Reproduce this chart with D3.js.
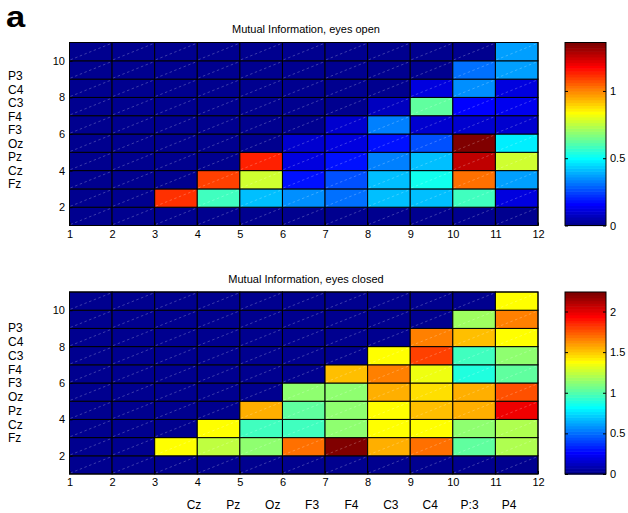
<!DOCTYPE html>
<html>
<head>
<meta charset="utf-8">
<script src="https://cdn.jsdelivr.net/npm/d3@7/dist/d3.min.js"></script>
<style>
  html, body { margin: 0; padding: 0; background: #fff; }
  svg { display: block; font-family: "Liberation Sans", Arial, Helvetica, sans-serif; }
</style>
</head>
<body>
<svg id="fig" width="628" height="513"></svg>
<script>
// Grid ticks
const xTicks = [1, 2, 3, 4, 5, 6, 7, 8, 9, 10, 11, 12];
const yTicks = [2, 4, 6, 8, 10];

// Electrode names along the side (top to bottom) and along the bottom
const rowLabels = ["P3", "C4", "C3", "F4", "F3", "Oz", "Pz", "Cz", "Fz"];
const colLabels = ["Cz", "Pz", "Oz", "F3", "F4", "C3", "C4", "P:3", "P4"];

// Panel titles
const titles = ["Mutual Information, eyes open", "Mutual Information, eyes closed"];

// Colorbar ticks
const cbTicksOpen = [0, 0.5, 1];
const cbTicksClosed = [0, 0.5, 1, 1.5, 2];

// Mutual information, eyes open: rows y = 1..10, columns x = 1..11
const miOpen = [
  [0, 0, 0,    0,    0,     0,     0,     0,     0,     0,     0    ],
  [0, 0, 1.12, 0.59, 0.425, 0.34,  0.306, 0.415, 0.425, 0.585, 0.109],
  [0, 0, 0,    1.10, 0.765, 0.187, 0.255, 0.425, 0.51,  1.037, 0.381],
  [0, 0, 0,    0,    1.14,  0.109, 0.17,  0.33,  0.408, 1.258, 0.78 ],
  [0, 0, 0,    0,    0,     0.102, 0.119, 0.19,  0.272, 1.36,  0.476],
  [0, 0, 0,    0,    0,     0,     0.102, 0.323, 0.085, 0.102, 0.085],
  [0, 0, 0,    0,    0,     0,     0,     0.068, 0.622, 0.153, 0.136],
  [0, 0, 0,    0,    0,     0,     0,     0,     0.119, 0.357, 0.119],
  [0, 0, 0,    0,    0,     0,     0,     0,     0,     0.306, 0.381],
  [0, 0, 0,    0,    0,     0,     0,     0,     0,     0,     0.374]
];

// Mutual information, eyes closed: rows y = 1..10, columns x = 1..11
const miClosed = [
  [0, 0, 0,    0,    0,    0,    0,    0,    0,    0,    0   ],
  [0, 0, 1.40, 1.24, 1.12, 1.69, 2.24, 1.56, 1.69, 1.04, 1.21],
  [0, 0, 0,    1.40, 0.98, 0.98, 1.12, 1.37, 1.40, 1.15, 1.21],
  [0, 0, 0,    0,    1.56, 1.04, 1.15, 1.40, 1.52, 1.56, 1.97],
  [0, 0, 0,    0,    0,    1.12, 1.12, 1.56, 1.46, 1.56, 1.78],
  [0, 0, 0,    0,    0,    0,    1.52, 1.66, 1.36, 0.91, 1.04],
  [0, 0, 0,    0,    0,    0,    0,    1.40, 1.80, 0.95, 1.15],
  [0, 0, 0,    0,    0,    0,    0,    0,    1.66, 1.52, 1.39],
  [0, 0, 0,    0,    0,    0,    0,    0,    0,    1.19, 1.66],
  [0, 0, 0,    0,    0,    0,    0,    0,    0,    0,    1.40]
];

// 64-step jet colormap
function jet(m) {
  const n = Math.ceil(m / 4);
  const u = [];
  for (let i = 1; i <= n; i++) u.push(i / n);
  for (let i = 1; i < n; i++) u.push(1);
  for (let i = n; i >= 1; i--) u.push(i / n);
  const off = Math.ceil(n / 2) - (m % 4 === 1 ? 1 : 0);
  const J = Array.from({ length: m }, () => [0, 0, 0]);
  u.forEach((v, i) => {
    const g = off + i + 1, r = g + n, b = g - n;
    if (r >= 1 && r <= m) J[r - 1][0] = v;
    if (g >= 1 && g <= m) J[g - 1][1] = v;
    if (b >= 1 && b <= m) J[b - 1][2] = v;
  });
  return J.map(c => d3.rgb(c[0] * 255, c[1] * 255, c[2] * 255).formatHex());
}
const jet64 = jet(64);

const svg = d3.select("#fig");

// Panel letter
svg.append("text")
  .attr("x", 6).attr("y", 27)
  .attr("font-size", 30).attr("font-weight", 900)
  .attr("transform", "translate(6,27) scale(1.15,1) translate(-6,-27)")
  .text("a");

const x = d3.scaleLinear().domain([1, 12]).range([69.5, 538]);

const panels = [
  { data: miOpen, title: titles[0], top: 42.5, bottom: 225.5, cbTicks: cbTicksOpen,
    titleY: 33, labelRange: [76, 184] },
  { data: miClosed, title: titles[1], top: 292, bottom: 474, cbTicks: cbTicksClosed,
    titleY: 283, labelRange: [328, 438] }
];

panels.forEach((p, pi) => {
  const y = d3.scaleLinear().domain([1, 11]).range([p.bottom, p.top]);
  const vmax = d3.max(p.data, r => d3.max(r));
  const color = d3.scaleQuantize().domain([0, vmax]).range(jet64);

  const g = svg.append("g");

  // cells
  const cells = [];
  p.data.forEach((row, ri) => row.forEach((v, ci) => cells.push({ xi: ci + 1, yi: ri + 1, v })));

  g.selectAll("rect.cell").data(cells).join("rect")
    .attr("class", "cell")
    .attr("x", d => x(d.xi))
    .attr("y", d => y(d.yi + 1))
    .attr("width", d => x(d.xi + 1) - x(d.xi))
    .attr("height", d => y(d.yi) - y(d.yi + 1))
    .attr("fill", d => color(d.v))
    .attr("stroke", "#000")
    .attr("stroke-width", 1);

  // faint diagonal seam inside each cell
  g.selectAll("line.seam").data(cells).join("line")
    .attr("class", "seam")
    .attr("x1", d => x(d.xi) + 1).attr("y1", d => y(d.yi) - 1)
    .attr("x2", d => x(d.xi + 1) - 1).attr("y2", d => y(d.yi + 1) + 1)
    .attr("stroke", "#fff")
    .attr("stroke-opacity", 0.4)
    .attr("stroke-width", 0.6)
    .attr("stroke-dasharray", "2.5,2.5");

  // frame
  g.append("rect")
    .attr("x", x(1)).attr("y", p.top)
    .attr("width", x(12) - x(1)).attr("height", p.bottom - p.top)
    .attr("fill", "none").attr("stroke", "#000").attr("stroke-width", 1);

  // axes
  const ax = g.append("g").attr("transform", `translate(0,${p.bottom})`)
    .call(d3.axisBottom(x).tickValues(xTicks).tickSizeInner(-3).tickSizeOuter(0).tickPadding(4.5).tickFormat(d3.format("d")));
  ax.select(".domain").remove();
  const ay = g.append("g").attr("transform", `translate(${x(1)},0)`)
    .call(d3.axisLeft(y).tickValues(yTicks).tickSizeInner(-3).tickSizeOuter(0).tickPadding(4.5).tickFormat(d3.format("d")));
  ay.select(".domain").remove();
  [ax, ay].forEach(a => {
    a.selectAll("text").attr("font-size", 11).attr("fill", "#000")
      .attr("font-family", "Liberation Sans, Arial, sans-serif");
    a.selectAll("line").attr("stroke", "#000");
  });

  // title
  g.append("text")
    .attr("x", 306).attr("y", p.titleY)
    .attr("text-anchor", "middle").attr("font-size", 11)
    .text(p.title);

  // electrode names on the side
  const ly = d3.scalePoint().domain(rowLabels).range(p.labelRange);
  g.selectAll("text.rowlab").data(rowLabels).join("text")
    .attr("class", "rowlab")
    .attr("x", 8).attr("y", d => ly(d))
    .attr("dy", "0.36em")
    .attr("font-size", 12)
    .text(d => d);

  // colorbar
  const cb = svg.append("g");
  const cy = d3.scaleLinear().domain([0, vmax]).range([p.bottom, p.top]);
  const bands = d3.range(64);
  const step = vmax / 64;
  cb.selectAll("rect.band").data(bands).join("rect")
    .attr("class", "band")
    .attr("x", 565).attr("width", 41)
    .attr("y", i => cy((i + 1) * step))
    .attr("height", i => cy(i * step) - cy((i + 1) * step) + 0.6)
    .attr("fill", i => jet64[i]);
  cb.append("rect")
    .attr("x", 565).attr("y", p.top).attr("width", 41).attr("height", p.bottom - p.top)
    .attr("fill", "none").attr("stroke", "#000").attr("stroke-width", 1);
  const cr = cb.append("g").attr("transform", "translate(606,0)")
    .call(d3.axisRight(cy).tickValues(p.cbTicks).tickSizeInner(-3).tickSizeOuter(0).tickPadding(4).tickFormat(d3.format("")));
  cr.select(".domain").remove();
  cr.selectAll("text").attr("font-size", 11).attr("fill", "#000")
    .attr("font-family", "Liberation Sans, Arial, sans-serif");
  cr.selectAll("line").attr("stroke", "#000");
  const cl = cb.append("g").attr("transform", "translate(565,0)")
    .call(d3.axisLeft(cy).tickValues(p.cbTicks).tickSizeInner(-3).tickSizeOuter(0).tickFormat(""));
  cl.select(".domain").remove();
  cl.selectAll("line").attr("stroke", "#000");

  // electrode names under the lower panel
  if (pi === 1) {
    const lx = d3.scalePoint().domain(colLabels).range([194, 509]);
    g.selectAll("text.collab").data(colLabels).join("text")
      .attr("class", "collab")
      .attr("x", d => lx(d)).attr("y", 509)
      .attr("text-anchor", "middle")
      .attr("font-size", 12)
      .text(d => d);
  }
});
</script>
</body>
</html>
